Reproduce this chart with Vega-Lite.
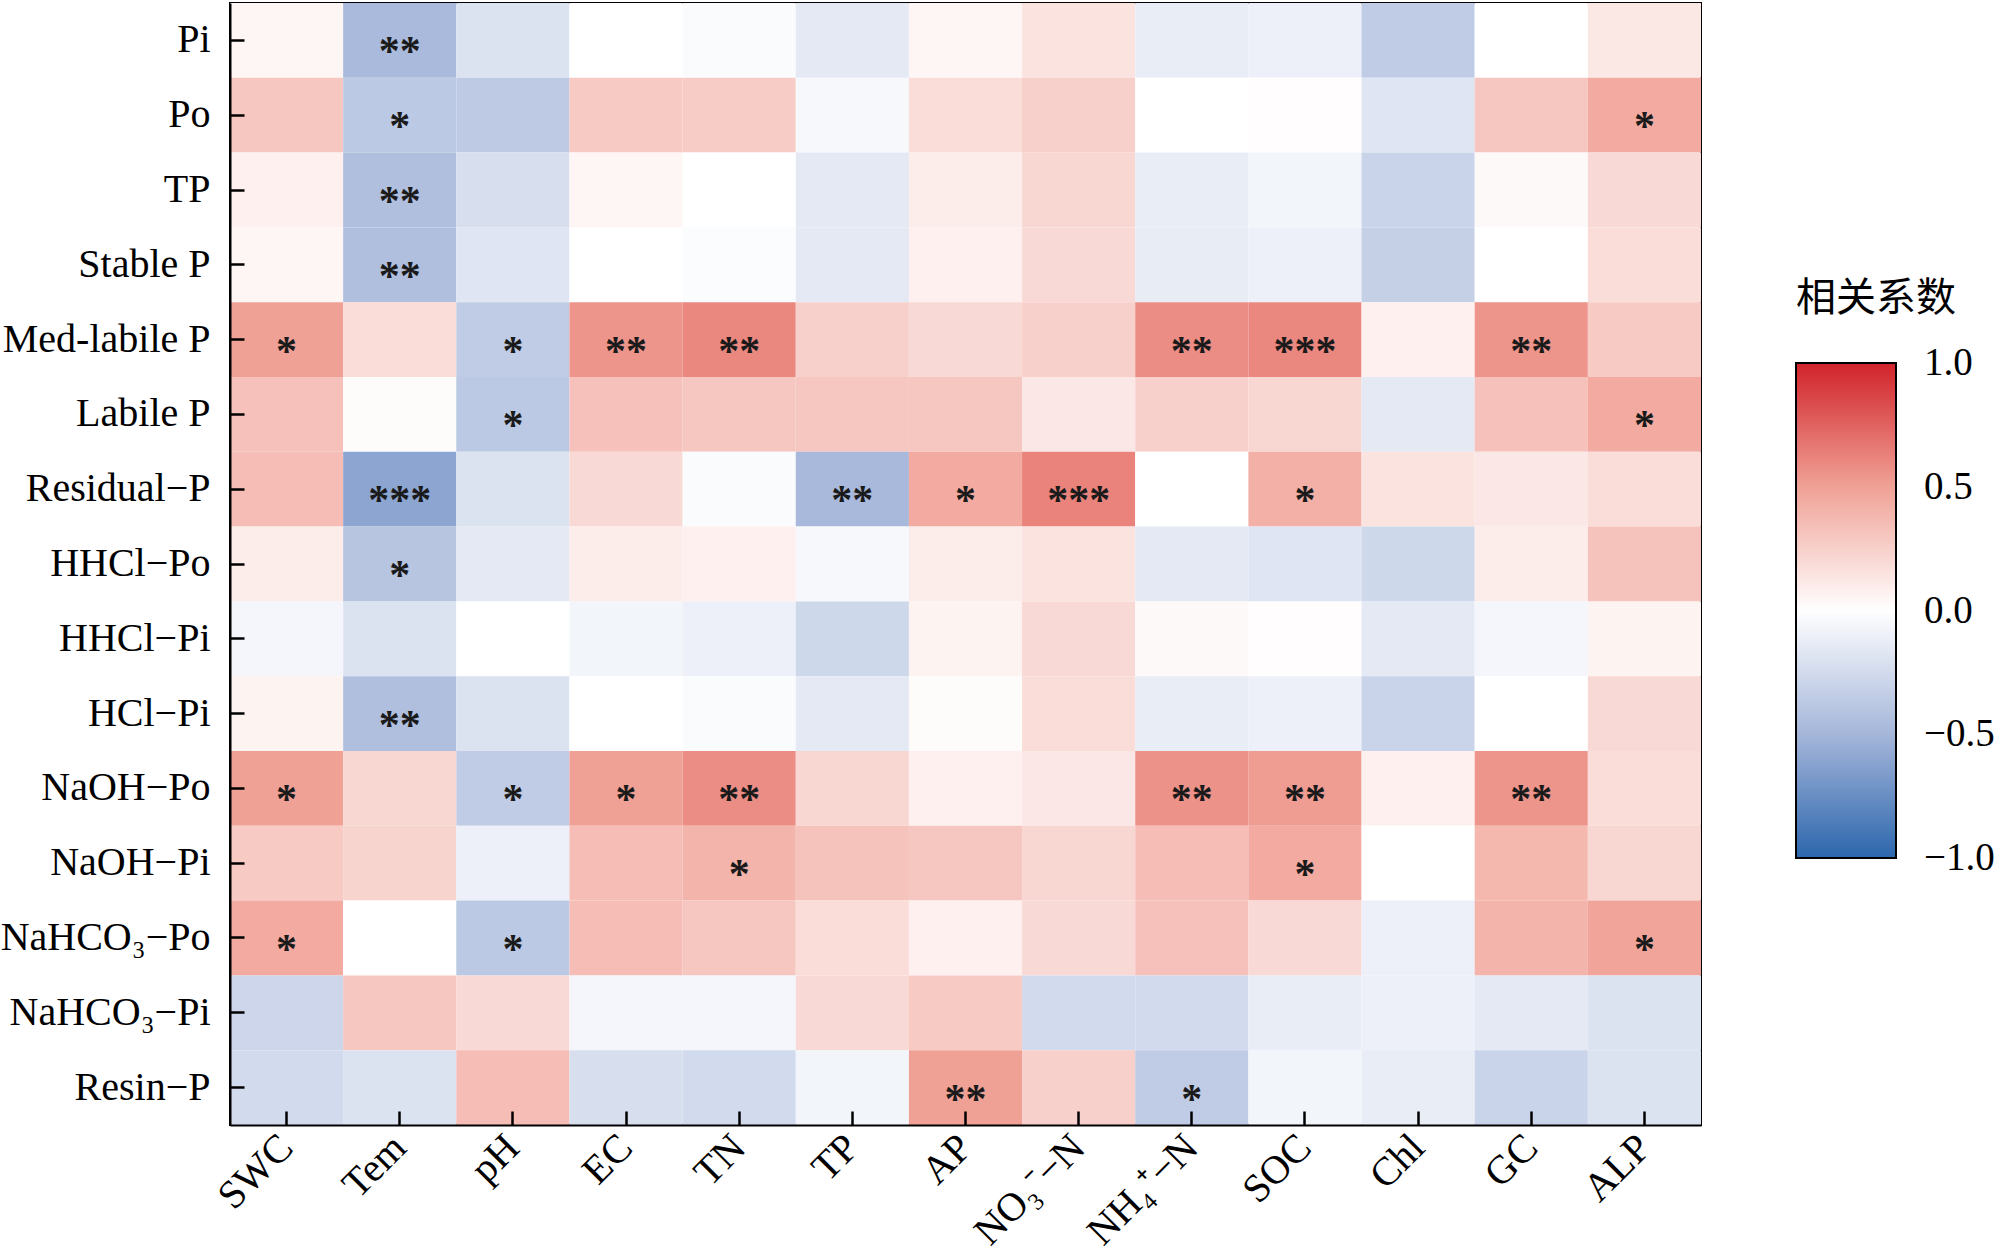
{
  "$schema": "https://vega.github.io/schema/vega-lite/v6.json",
  "width": 1471,
  "height": 1122,
  "autosize": {"type": "none"},
  "padding": {"left": 230, "top": 3, "right": 299, "bottom": 128},
  "background": "white",
  "config": {
    "font": "Liberation Serif",
    "view": {"stroke": "black", "strokeWidth": 2},
    "axis": {
      "labelFont": "Liberation Serif",
      "labelFontSize": 40,
      "labelColor": "black",
      "labelLimit": 0,
      "domainColor": "black",
      "domainWidth": 2,
      "tickColor": "black",
      "tickWidth": 2.5,
      "tickSize": -14,
      "grid": false,
      "title": null
    }
  },
  "data": {
    "values": [
      {"r":"Pi","c":"SWC","v":0.05,"s":""},{"r":"Pi","c":"Tem","v":-0.47,"s":"**"},{"r":"Pi","c":"pH","v":-0.2,"s":""},{"r":"Pi","c":"EC","v":0.0,"s":""},{"r":"Pi","c":"TN","v":-0.03,"s":""},{"r":"Pi","c":"TP","v":-0.15,"s":""},{"r":"Pi","c":"AP","v":0.05,"s":""},{"r":"Pi","c":"NO₃⁻−N","v":0.15,"s":""},{"r":"Pi","c":"NH₄⁺−N","v":-0.12,"s":""},{"r":"Pi","c":"SOC","v":-0.1,"s":""},{"r":"Pi","c":"Chl","v":-0.35,"s":""},{"r":"Pi","c":"GC","v":0.0,"s":""},{"r":"Pi","c":"ALP","v":0.13,"s":""},
      {"r":"Po","c":"SWC","v":0.3,"s":""},{"r":"Po","c":"Tem","v":-0.37,"s":"*"},{"r":"Po","c":"pH","v":-0.36,"s":""},{"r":"Po","c":"EC","v":0.28,"s":""},{"r":"Po","c":"TN","v":0.27,"s":""},{"r":"Po","c":"TP","v":-0.05,"s":""},{"r":"Po","c":"AP","v":0.18,"s":""},{"r":"Po","c":"NO₃⁻−N","v":0.25,"s":""},{"r":"Po","c":"NH₄⁺−N","v":0.0,"s":""},{"r":"Po","c":"SOC","v":0.01,"s":""},{"r":"Po","c":"Chl","v":-0.18,"s":""},{"r":"Po","c":"GC","v":0.3,"s":""},{"r":"Po","c":"ALP","v":0.45,"s":"*"},
      {"r":"TP","c":"SWC","v":0.08,"s":""},{"r":"TP","c":"Tem","v":-0.44,"s":"**"},{"r":"TP","c":"pH","v":-0.22,"s":""},{"r":"TP","c":"EC","v":0.05,"s":""},{"r":"TP","c":"TN","v":0.0,"s":""},{"r":"TP","c":"TP","v":-0.15,"s":""},{"r":"TP","c":"AP","v":0.1,"s":""},{"r":"TP","c":"NO₃⁻−N","v":0.22,"s":""},{"r":"TP","c":"NH₄⁺−N","v":-0.12,"s":""},{"r":"TP","c":"SOC","v":-0.07,"s":""},{"r":"TP","c":"Chl","v":-0.3,"s":""},{"r":"TP","c":"GC","v":0.03,"s":""},{"r":"TP","c":"ALP","v":0.2,"s":""},
      {"r":"Stable P","c":"SWC","v":0.05,"s":""},{"r":"Stable P","c":"Tem","v":-0.44,"s":"**"},{"r":"Stable P","c":"pH","v":-0.18,"s":""},{"r":"Stable P","c":"EC","v":0.0,"s":""},{"r":"Stable P","c":"TN","v":-0.02,"s":""},{"r":"Stable P","c":"TP","v":-0.15,"s":""},{"r":"Stable P","c":"AP","v":0.08,"s":""},{"r":"Stable P","c":"NO₃⁻−N","v":0.2,"s":""},{"r":"Stable P","c":"NH₄⁺−N","v":-0.13,"s":""},{"r":"Stable P","c":"SOC","v":-0.1,"s":""},{"r":"Stable P","c":"Chl","v":-0.32,"s":""},{"r":"Stable P","c":"GC","v":0.0,"s":""},{"r":"Stable P","c":"ALP","v":0.18,"s":""},
      {"r":"Med-labile P","c":"SWC","v":0.5,"s":"*"},{"r":"Med-labile P","c":"Tem","v":0.18,"s":""},{"r":"Med-labile P","c":"pH","v":-0.35,"s":"*"},{"r":"Med-labile P","c":"EC","v":0.55,"s":"**"},{"r":"Med-labile P","c":"TN","v":0.6,"s":"**"},{"r":"Med-labile P","c":"TP","v":0.25,"s":""},{"r":"Med-labile P","c":"AP","v":0.2,"s":""},{"r":"Med-labile P","c":"NO₃⁻−N","v":0.25,"s":""},{"r":"Med-labile P","c":"NH₄⁺−N","v":0.58,"s":"**"},{"r":"Med-labile P","c":"SOC","v":0.6,"s":"***"},{"r":"Med-labile P","c":"Chl","v":0.08,"s":""},{"r":"Med-labile P","c":"GC","v":0.55,"s":"**"},{"r":"Med-labile P","c":"ALP","v":0.28,"s":""},
      {"r":"Labile P","c":"SWC","v":0.33,"s":""},{"r":"Labile P","c":"Tem","v":0.02,"s":""},{"r":"Labile P","c":"pH","v":-0.37,"s":"*"},{"r":"Labile P","c":"EC","v":0.33,"s":""},{"r":"Labile P","c":"TN","v":0.3,"s":""},{"r":"Labile P","c":"TP","v":0.3,"s":""},{"r":"Labile P","c":"AP","v":0.3,"s":""},{"r":"Labile P","c":"NO₃⁻−N","v":0.12,"s":""},{"r":"Labile P","c":"NH₄⁺−N","v":0.25,"s":""},{"r":"Labile P","c":"SOC","v":0.22,"s":""},{"r":"Labile P","c":"Chl","v":-0.15,"s":""},{"r":"Labile P","c":"GC","v":0.33,"s":""},{"r":"Labile P","c":"ALP","v":0.45,"s":"*"},
      {"r":"Residual−P","c":"SWC","v":0.35,"s":""},{"r":"Residual−P","c":"Tem","v":-0.6,"s":"***"},{"r":"Residual−P","c":"pH","v":-0.2,"s":""},{"r":"Residual−P","c":"EC","v":0.2,"s":""},{"r":"Residual−P","c":"TN","v":-0.03,"s":""},{"r":"Residual−P","c":"TP","v":-0.48,"s":"**"},{"r":"Residual−P","c":"AP","v":0.45,"s":"*"},{"r":"Residual−P","c":"NO₃⁻−N","v":0.62,"s":"***"},{"r":"Residual−P","c":"NH₄⁺−N","v":0.0,"s":""},{"r":"Residual−P","c":"SOC","v":0.42,"s":"*"},{"r":"Residual−P","c":"Chl","v":0.15,"s":""},{"r":"Residual−P","c":"GC","v":0.12,"s":""},{"r":"Residual−P","c":"ALP","v":0.18,"s":""},
      {"r":"HHCl−Po","c":"SWC","v":0.1,"s":""},{"r":"HHCl−Po","c":"Tem","v":-0.4,"s":"*"},{"r":"HHCl−Po","c":"pH","v":-0.15,"s":""},{"r":"HHCl−Po","c":"EC","v":0.1,"s":""},{"r":"HHCl−Po","c":"TN","v":0.08,"s":""},{"r":"HHCl−Po","c":"TP","v":-0.05,"s":""},{"r":"HHCl−Po","c":"AP","v":0.1,"s":""},{"r":"HHCl−Po","c":"NO₃⁻−N","v":0.15,"s":""},{"r":"HHCl−Po","c":"NH₄⁺−N","v":-0.15,"s":""},{"r":"HHCl−Po","c":"SOC","v":-0.18,"s":""},{"r":"HHCl−Po","c":"Chl","v":-0.27,"s":""},{"r":"HHCl−Po","c":"GC","v":0.1,"s":""},{"r":"HHCl−Po","c":"ALP","v":0.32,"s":""},
      {"r":"HHCl−Pi","c":"SWC","v":-0.06,"s":""},{"r":"HHCl−Pi","c":"Tem","v":-0.2,"s":""},{"r":"HHCl−Pi","c":"pH","v":0.0,"s":""},{"r":"HHCl−Pi","c":"EC","v":-0.07,"s":""},{"r":"HHCl−Pi","c":"TN","v":-0.1,"s":""},{"r":"HHCl−Pi","c":"TP","v":-0.27,"s":""},{"r":"HHCl−Pi","c":"AP","v":0.06,"s":""},{"r":"HHCl−Pi","c":"NO₃⁻−N","v":0.2,"s":""},{"r":"HHCl−Pi","c":"NH₄⁺−N","v":0.03,"s":""},{"r":"HHCl−Pi","c":"SOC","v":0.01,"s":""},{"r":"HHCl−Pi","c":"Chl","v":-0.15,"s":""},{"r":"HHCl−Pi","c":"GC","v":-0.06,"s":""},{"r":"HHCl−Pi","c":"ALP","v":0.06,"s":""},
      {"r":"HCl−Pi","c":"SWC","v":0.06,"s":""},{"r":"HCl−Pi","c":"Tem","v":-0.44,"s":"**"},{"r":"HCl−Pi","c":"pH","v":-0.2,"s":""},{"r":"HCl−Pi","c":"EC","v":0.0,"s":""},{"r":"HCl−Pi","c":"TN","v":-0.03,"s":""},{"r":"HCl−Pi","c":"TP","v":-0.15,"s":""},{"r":"HCl−Pi","c":"AP","v":0.02,"s":""},{"r":"HCl−Pi","c":"NO₃⁻−N","v":0.18,"s":""},{"r":"HCl−Pi","c":"NH₄⁺−N","v":-0.12,"s":""},{"r":"HCl−Pi","c":"SOC","v":-0.1,"s":""},{"r":"HCl−Pi","c":"Chl","v":-0.3,"s":""},{"r":"HCl−Pi","c":"GC","v":0.0,"s":""},{"r":"HCl−Pi","c":"ALP","v":0.2,"s":""},
      {"r":"NaOH−Po","c":"SWC","v":0.5,"s":"*"},{"r":"NaOH−Po","c":"Tem","v":0.22,"s":""},{"r":"NaOH−Po","c":"pH","v":-0.35,"s":"*"},{"r":"NaOH−Po","c":"EC","v":0.5,"s":"*"},{"r":"NaOH−Po","c":"TN","v":0.58,"s":"**"},{"r":"NaOH−Po","c":"TP","v":0.22,"s":""},{"r":"NaOH−Po","c":"AP","v":0.08,"s":""},{"r":"NaOH−Po","c":"NO₃⁻−N","v":0.12,"s":""},{"r":"NaOH−Po","c":"NH₄⁺−N","v":0.56,"s":"**"},{"r":"NaOH−Po","c":"SOC","v":0.52,"s":"**"},{"r":"NaOH−Po","c":"Chl","v":0.08,"s":""},{"r":"NaOH−Po","c":"GC","v":0.55,"s":"**"},{"r":"NaOH−Po","c":"ALP","v":0.18,"s":""},
      {"r":"NaOH−Pi","c":"SWC","v":0.28,"s":""},{"r":"NaOH−Pi","c":"Tem","v":0.23,"s":""},{"r":"NaOH−Pi","c":"pH","v":-0.1,"s":""},{"r":"NaOH−Pi","c":"EC","v":0.35,"s":""},{"r":"NaOH−Pi","c":"TN","v":0.4,"s":"*"},{"r":"NaOH−Pi","c":"TP","v":0.32,"s":""},{"r":"NaOH−Pi","c":"AP","v":0.3,"s":""},{"r":"NaOH−Pi","c":"NO₃⁻−N","v":0.22,"s":""},{"r":"NaOH−Pi","c":"NH₄⁺−N","v":0.35,"s":""},{"r":"NaOH−Pi","c":"SOC","v":0.45,"s":"*"},{"r":"NaOH−Pi","c":"Chl","v":0.0,"s":""},{"r":"NaOH−Pi","c":"GC","v":0.38,"s":""},{"r":"NaOH−Pi","c":"ALP","v":0.22,"s":""},
      {"r":"NaHCO₃−Po","c":"SWC","v":0.45,"s":"*"},{"r":"NaHCO₃−Po","c":"Tem","v":0.0,"s":""},{"r":"NaHCO₃−Po","c":"pH","v":-0.37,"s":"*"},{"r":"NaHCO₃−Po","c":"EC","v":0.35,"s":""},{"r":"NaHCO₃−Po","c":"TN","v":0.3,"s":""},{"r":"NaHCO₃−Po","c":"TP","v":0.18,"s":""},{"r":"NaHCO₃−Po","c":"AP","v":0.08,"s":""},{"r":"NaHCO₃−Po","c":"NO₃⁻−N","v":0.2,"s":""},{"r":"NaHCO₃−Po","c":"NH₄⁺−N","v":0.33,"s":""},{"r":"NaHCO₃−Po","c":"SOC","v":0.2,"s":""},{"r":"NaHCO₃−Po","c":"Chl","v":-0.1,"s":""},{"r":"NaHCO₃−Po","c":"GC","v":0.4,"s":""},{"r":"NaHCO₃−Po","c":"ALP","v":0.48,"s":"*"},
      {"r":"NaHCO₃−Pi","c":"SWC","v":-0.28,"s":""},{"r":"NaHCO₃−Pi","c":"Tem","v":0.3,"s":""},{"r":"NaHCO₃−Pi","c":"pH","v":0.2,"s":""},{"r":"NaHCO₃−Pi","c":"EC","v":-0.06,"s":""},{"r":"NaHCO₃−Pi","c":"TN","v":-0.06,"s":""},{"r":"NaHCO₃−Pi","c":"TP","v":0.2,"s":""},{"r":"NaHCO₃−Pi","c":"AP","v":0.28,"s":""},{"r":"NaHCO₃−Pi","c":"NO₃⁻−N","v":-0.25,"s":""},{"r":"NaHCO₃−Pi","c":"NH₄⁺−N","v":-0.25,"s":""},{"r":"NaHCO₃−Pi","c":"SOC","v":-0.12,"s":""},{"r":"NaHCO₃−Pi","c":"Chl","v":-0.1,"s":""},{"r":"NaHCO₃−Pi","c":"GC","v":-0.15,"s":""},{"r":"NaHCO₃−Pi","c":"ALP","v":-0.2,"s":""},
      {"r":"Resin−P","c":"SWC","v":-0.25,"s":""},{"r":"Resin−P","c":"Tem","v":-0.2,"s":""},{"r":"Resin−P","c":"pH","v":0.35,"s":""},{"r":"Resin−P","c":"EC","v":-0.22,"s":""},{"r":"Resin−P","c":"TN","v":-0.25,"s":""},{"r":"Resin−P","c":"TP","v":-0.07,"s":""},{"r":"Resin−P","c":"AP","v":0.5,"s":"**"},{"r":"Resin−P","c":"NO₃⁻−N","v":0.25,"s":""},{"r":"Resin−P","c":"NH₄⁺−N","v":-0.35,"s":"*"},{"r":"Resin−P","c":"SOC","v":-0.07,"s":""},{"r":"Resin−P","c":"Chl","v":-0.12,"s":""},{"r":"Resin−P","c":"GC","v":-0.3,"s":""},{"r":"Resin−P","c":"ALP","v":-0.2,"s":""}
    ]
  },
  "encoding": {
    "x": {
      "field": "c",
      "type": "nominal",
      "sort": ["SWC","Tem","pH","EC","TN","TP","AP","NO₃⁻−N","NH₄⁺−N","SOC","Chl","GC","ALP"],
      "scale": {"paddingInner": 0, "paddingOuter": 0},
      "axis": {"labelAngle": -45, "labelAlign": "right", "labelBaseline": "middle", "labelPadding": 30}
    },
    "y": {
      "field": "r",
      "type": "nominal",
      "sort": ["Pi","Po","TP","Stable P","Med-labile P","Labile P","Residual−P","HHCl−Po","HHCl−Pi","HCl−Pi","NaOH−Po","NaOH−Pi","NaHCO₃−Po","NaHCO₃−Pi","Resin−P"],
      "scale": {"paddingInner": 0, "paddingOuter": 0},
      "axis": {"labelPadding": 34}
    }
  },
  "layer": [
    {
      "mark": {"type": "rect"},
      "encoding": {
        "color": {
          "field": "v",
          "type": "quantitative",
          "scale": {
            "domain": [-1, -0.5, 0, 0.5, 1],
            "range": ["#2c66ad", "#a5b6da", "#ffffff", "#f0a196", "#d1232a"],
            "interpolate": "rgb"
          },
          "legend": {
            "title": "相关系数",
            "orient": "none",
            "legendX": 1566,
            "legendY": 276,
            "direction": "vertical",
            "gradientLength": 495,
            "gradientThickness": 100,
            "gradientStrokeColor": "black",
            "gradientStrokeWidth": 2,
            "titleFont": "Noto Sans CJK SC",
            "titleFontSize": 40,
            "titleFontWeight": "normal",
            "titleColor": "black",
            "titlePadding": 44,
            "labelFont": "Liberation Serif",
            "labelFontSize": 39,
            "labelColor": "black",
            "labelOffset": 28,
            "values": [-1, -0.5, 0, 0.5, 1],
            "format": ".1f",
            "encode": {"labels": {"update": {"baseline": {"value": "middle"}}}}
          }
        }
      }
    },
    {
      "mark": {"type": "text", "font": "Liberation Serif", "fontSize": 42, "fontWeight": "bold", "color": "#1a1a1a", "baseline": "middle", "dy": 12},
      "encoding": {"text": {"field": "s", "type": "nominal"}}
    }
  ]
}
